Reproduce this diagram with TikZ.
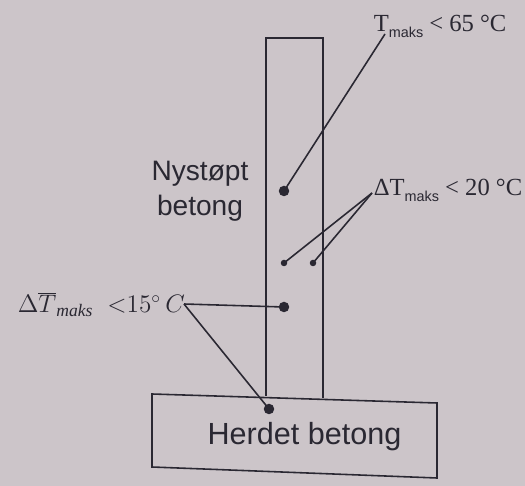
\documentclass[tikz,border=0pt]{standalone}
\usepackage{fontspec}
\setmainfont{Liberation Serif}
\setsansfont{Liberation Sans}
\usetikzlibrary{calc}
\definecolor{paper}{RGB}{204,197,201}
\definecolor{ink}{RGB}{42,40,50}
\newcommand\maks{\raisebox{-3.4pt}{\sffamily\fontsize{8.2}{8.2}\selectfont maks}}

\begin{document}
\begin{tikzpicture}[x=0.02cm, y=-0.02cm, line width=0.9pt,
    bigdot/.style={circle, fill=ink, inner sep=0pt, minimum size=0.21cm},
    smalldot/.style={circle, fill=ink, inner sep=0pt, minimum size=0.13cm},
    limit/.style={text=ink, inner sep=0pt, anchor=base west, font=\fontsize{14}{16}\selectfont},
    zone/.style={text=ink, inner sep=0pt, align=center, font=\sffamily\fontsize{16}{19.8}\selectfont}]
    \fill[paper] (0,0) rectangle (525,486);
    % wall and footing
    \draw[ink] (266,396) -- (266,38) -- (323,38) -- (323,398);
    \draw[ink] (152,394) -- (437,403) -- (437,478) -- (152,467) -- cycle;
    \node[zone] (fresh) at (200,191) {Nystøpt\\betong};
    \node[zone, anchor=base, font=\sffamily\fontsize{17.4}{20}\selectfont] (hardened) at (304.5,445) {Herdet betong};
    % measuring points
    \node[bigdot] (top) at (284,191) {};
    \node[smalldot] (mid-l) at (284,263) {};
    \node[smalldot] (mid-r) at (313,263) {};
    \node[bigdot] (low) at (284,307) {};
    \node[bigdot] (foot) at (269,409) {};
    % limits
    \node[limit] (tmax) at (373,32) {T\maks\ < 65 °C};
    \node[limit] (dtmax) at (373,196) {ΔT\maks\ < 20 °C};
    \node[limit, font=\fontsize{14.4}{16}\selectfont] (dtbar) at (17,313)
        {$\Delta\overline{T}_{\mathit{maks}}\;\;{<}15^{\circ}\,C$};
    \coordinate (tmax-foot) at (385,34);
    \coordinate (dtmax-join) at (372,193);
    \coordinate (dtbar-join) at (184,304);
    \draw[ink] (tmax-foot) -- (top.center);
    \draw[ink] (dtmax-join) -- (mid-l.center);
    \draw[ink] (dtmax-join) -- (mid-r.center);
    \draw[ink] (dtbar-join) -- (low.center);
    \draw[ink] (dtbar-join) -- (foot.center);
\end{tikzpicture}
\end{document}
